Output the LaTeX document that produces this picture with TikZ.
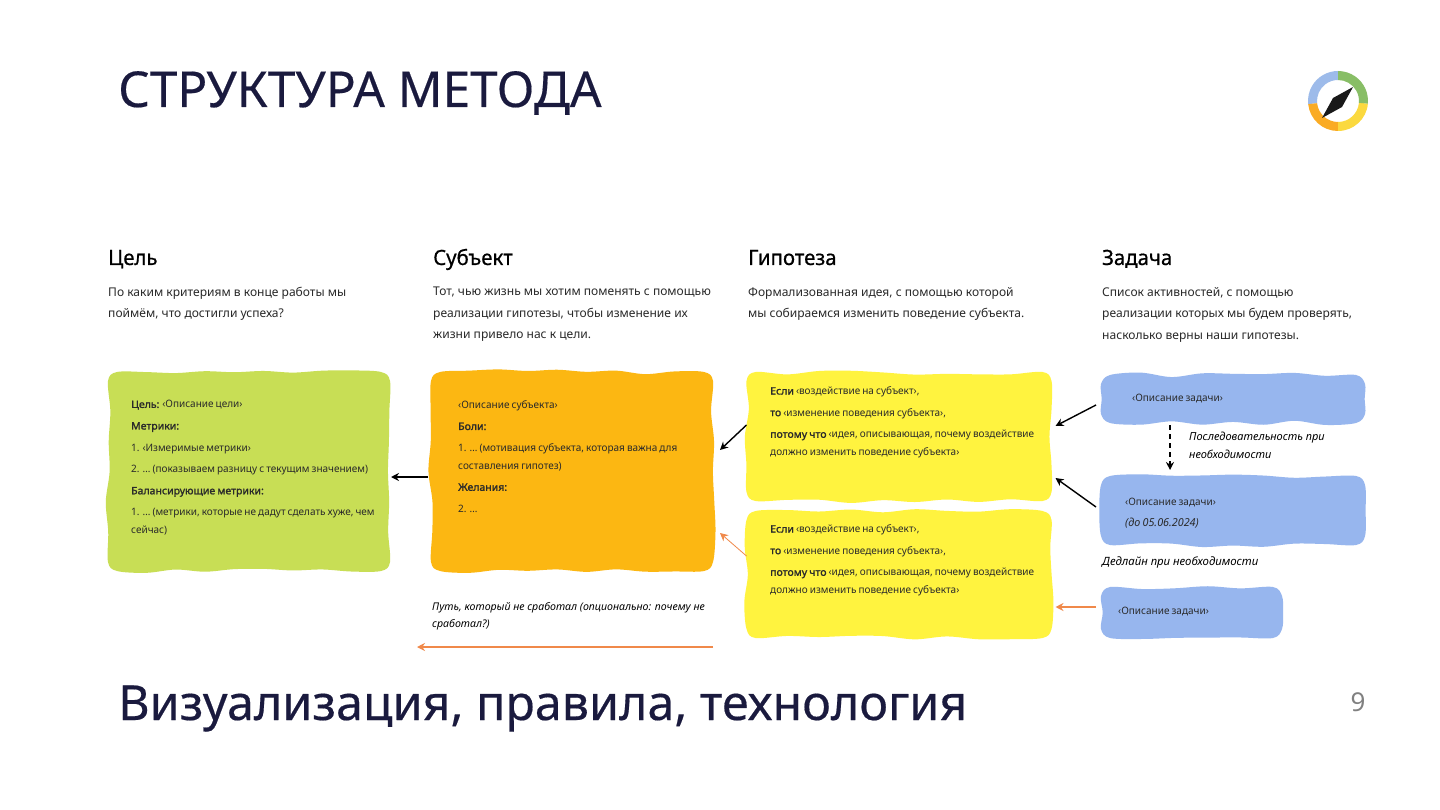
\documentclass[tikz,border=0pt]{standalone}
\usepackage{fontspec}
\setmainfont{Noto Sans}
\newfontfamily\medfont[FakeBold=0.35]{Noto Sans}
\newfontfamily\headfont[FakeBold=0.6,FakeStretch=0.97]{Noto Sans}
\newfontfamily\boxfont[FakeStretch=0.98,WordSpace=0.8,BoldFont=Noto Sans,BoldFeatures={FakeBold=1.6,FakeStretch=1.03},ItalicFeatures={FakeStretch=0.98}]{Noto Sans}
\usetikzlibrary{decorations.pathmorphing,arrows.meta}
\definecolor{ink}{HTML}{1A1A3E}
\definecolor{cgreen}{HTML}{C8DE55}
\definecolor{corange}{HTML}{FCB712}
\definecolor{cyellow}{HTML}{FFF33F}
\definecolor{cblue}{HTML}{97B6EE}
\definecolor{arr}{HTML}{F0894A}
\definecolor{bodyt}{HTML}{2A2A2A}
\definecolor{lblue}{HTML}{9DBBEA}
\definecolor{lgreen}{HTML}{88BE66}
\definecolor{lyellow}{HTML}{FBD93F}
\definecolor{lorange}{HTML}{FAAB24}
\newcommand{\ringseg}[3]{\fill[#1] (-#2:30) arc[start angle=-#2,end angle=-#3,radius=30] -- (-#3:21) arc[start angle=-#3,end angle=-#2,radius=21] -- cycle;}
% one side of a wavy outline, from (#1,#2) to (#3,#4)
\newcommand{\blobside}[4]{%
  \pgfmathsetmacro\bdx{#3-#1}\pgfmathsetmacro\bdy{#4-#2}%
  \pgfmathsetmacro\blen{veclen(\bdx,\bdy)}%
  \pgfmathtruncatemacro\bn{max(2,round(\blen/31))}%
  \foreach \bi in {0,...,\bn}{%
    \pgfmathsetmacro\bj{(\bi==0||\bi==\bn)?0:2.6*rand}%
    \pgfmathsetmacro\bpx{#1+\bdx*\bi/\bn-\bdy/\blen*\bj}%
    \pgfmathsetmacro\bpy{#2+\bdy*\bi/\bn+\bdx/\blen*\bj}%
    \xdef\blobpts{\blobpts (\bpx,\bpy)}%
  }%
}
% name, colour, cx, cy, w, h, seed
\newcommand{\blobbox}[7]{%
  \pgfmathsetseed{#7}%
  \gdef\blobpts{}%
  \pgfmathsetmacro\bl{#3-#5/2}\pgfmathsetmacro\br{#3+#5/2}%
  \pgfmathsetmacro\bt{#4-#6/2}\pgfmathsetmacro\bb{#4+#6/2}%
  \pgfmathsetmacro\blr{\bl+9}\pgfmathsetmacro\brr{\br-9}%
  \pgfmathsetmacro\btr{\bt+9}\pgfmathsetmacro\bbr{\bb-9}%
  \blobside{\blr}{\bt}{\brr}{\bt}%
  \blobside{\br}{\btr}{\br}{\bbr}%
  \blobside{\brr}{\bb}{\blr}{\bb}%
  \blobside{\bl}{\bbr}{\bl}{\btr}%
  \edef\blobcmd{\noexpand\fill[#2] plot[smooth cycle,tension=.55] coordinates {\blobpts};}%
  \blobcmd
  \node[inner sep=0pt,outer sep=0pt,minimum width=#5pt,minimum height=#6pt] (#1) at (#3,#4) {};%
}
\tikzset{
  colhead/.style={anchor=base west,inner sep=0pt,font=\headfont\fontsize{21}{24}\selectfont,text=black},
  coltext/.style={anchor=north west,inner sep=0pt,align=left,text=bodyt,font=\fontsize{12.05}{21.5}\selectfont},
  boxtext/.style={anchor=north west,inner sep=0pt,align=left,text=bodyt,font=\boxfont\fontsize{10.2}{17.6}\selectfont},
  note/.style={anchor=north west,inner sep=0pt,align=left,text=black,font=\fontsize{11}{17.6}\itshape\selectfont},
  blackarrow/.style={draw=black,line width=1.4pt,-{Stealth[length=8pt,width=8pt]}},
  orangearrow/.style={draw=arr,line width=1.3pt,-{Stealth[length=8pt,width=8pt]}},
}
\begin{document}
\begin{tikzpicture}[x=1pt,y=-1pt]
\useasboundingbox (0,0) rectangle (1440,810);
\fill[white] (0,0) rectangle (1440,810);
\node[anchor=base west,inner sep=0pt,text=ink,font=\medfont\fontsize{49.5}{54}\selectfont] (title) at (118,107) {СТРУКТУРА МЕТОДА};
\node[anchor=base west,inner sep=0pt,text=ink,font=\medfont\fontsize{48.4}{54}\selectfont] (subtitle) at (118,720) {Визуализация, правила, технология};
\node[anchor=base,inner sep=0pt,text=gray,font=\fontsize{26}{30}\selectfont] (pagenum) at (1358,711) {9};

% logo
\begin{scope}[shift={(1338,101)}]
\ringseg{lblue}{90}{186}
\ringseg{lorange}{186}{270}
\ringseg{lyellow}{270}{355}
\ringseg{lgreen}{-5}{90}
\fill[black!90] (-16,17) -- (-5,-3) -- (15,-14) -- (4,6) -- cycle;
\end{scope}

% headings
\node[colhead] (h1) at (108,265) {Цель};
\node[colhead] (h2) at (433,265) {Субъект};
\node[colhead] (h3) at (748,265) {Гипотеза};
\node[colhead] (h4) at (1102,265) {Задача};
\node[coltext] (t1) at (108,287) {По каким критериям в конце работы мы\\поймём, что достигли успеха?};
\node[coltext] (t2) at (433,287) {Тот, чью жизнь мы хотим поменять с помощью\\реализации гипотезы, чтобы изменение их\\жизни привело нас к цели.};
\node[coltext] (t3) at (748,287) {Формализованная идея, с помощью которой\\мы собираемся изменить поведение субъекта.};
\node[coltext] (t4) at (1102,287) {Список активностей, с помощью\\реализации которых мы будем проверять,\\насколько верны наши гипотезы.};

% boxes
\blobbox{goal}{cgreen}{249}{471.5}{282}{199}{11}
\blobbox{subj}{corange}{572}{471.5}{282}{199}{23}
\blobbox{hypa}{cyellow}{899}{436.5}{305}{129}{35}
\blobbox{hypb}{cyellow}{899}{574.5}{305}{127}{47}
\blobbox{taska}{cblue}{1233}{399}{264}{48}{59}
\blobbox{taskb}{cblue}{1233}{510.5}{264}{69}{61}
\blobbox{taskc}{cblue}{1191.5}{612.5}{181}{51}{73}

% box texts
\node[boxtext] (gt) at (131,400.3) {\textbf{Цель:} ‹Описание цели›\\[4pt]\textbf{Метрики:}\\[4pt]1. ‹Измеримые метрики›\\[4pt]2. … (показываем разницу с текущим значением)\\[4pt]\textbf{Балансирующие метрики:}\\[4pt]1. … (метрики, которые не дадут сделать хуже, чем\\сейчас)};
\node[boxtext] (st) at (458,400.3) {‹Описание субъекта›\\[4pt]\textbf{Боли:}\\[4pt]1. … (мотивация субъекта, которая важна для\\составления гипотез)\\[4pt]\textbf{Желания:}\\[4pt]2. …};
\node[boxtext] (hat) at (770,386.5) {\textbf{Если} ‹воздействие на субъект›,\\[4pt]\textbf{то} ‹изменение поведения субъекта›,\\[4pt]\textbf{потому что} ‹идея, описывающая, почему воздействие\\должно изменить поведение субъекта›};
\node[boxtext] (hbt) at (770,524.5) {\textbf{Если} ‹воздействие на субъект›,\\[4pt]\textbf{то} ‹изменение поведения субъекта›,\\[4pt]\textbf{потому что} ‹идея, описывающая, почему воздействие\\должно изменить поведение субъекта›};
\node[boxtext] (tat) at (1132,393.5) {‹Описание задачи›};
\node[boxtext] (tbt) at (1125,497.5) {‹Описание задачи›\\[4pt]{\fontsize{11}{17.6}\selectfont\textit{(до 05.06.2024)}}};
\node[boxtext] (tct) at (1118,607) {‹Описание задачи›};

% notes
\node[note] (seq) at (1189,432) {Последовательность при\\необходимости};
\node[note,font=\fontsize{11.4}{17.6}\itshape\selectfont] (ded) at (1102,557) {Дедлайн при необходимости};
\node[note,font=\fontsize{10.6}{17.6}\itshape\selectfont] (path) at (432,602) {Путь, который не сработал (опционально: почему не\\сработал?)};

% connectors
\draw[blackarrow] ([xshift=-3pt,yshift=-5.5pt]subj.west) -- ([xshift=1pt,yshift=-5.5pt]goal.east);
\draw[blackarrow] ([yshift=11.5pt]hypa.west) -- ([xshift=7pt,yshift=21.5pt]subj.east);
\draw[orangearrow,line width=.8pt] ([yshift=18.5pt]hypb.west) -- ([xshift=7pt,yshift=-61.5pt]subj.east);
\draw[blackarrow] ([xshift=-5pt,yshift=-6pt]taska.west) -- ([xshift=4pt,yshift=10.5pt]hypa.east);
\draw[blackarrow] ([xshift=-5pt,yshift=3.5pt]taskb.west) -- ([xshift=4pt,yshift=-41.5pt]hypa.east);
\draw[orangearrow] ([xshift=-5pt,yshift=5.5pt]taskc.west) -- ([xshift=4pt,yshift=-32.5pt]hypb.east);
\draw[blackarrow,dash pattern=on 5pt off 4pt] ([xshift=-63pt,yshift=-2pt]taska.south) -- ([xshift=-63pt,yshift=6pt]taskb.north);
\coordinate (orstart) at (713,647);
\coordinate (orend) at (417,647);
\draw[orangearrow] (orstart) -- (orend);
\end{tikzpicture}
\end{document}
